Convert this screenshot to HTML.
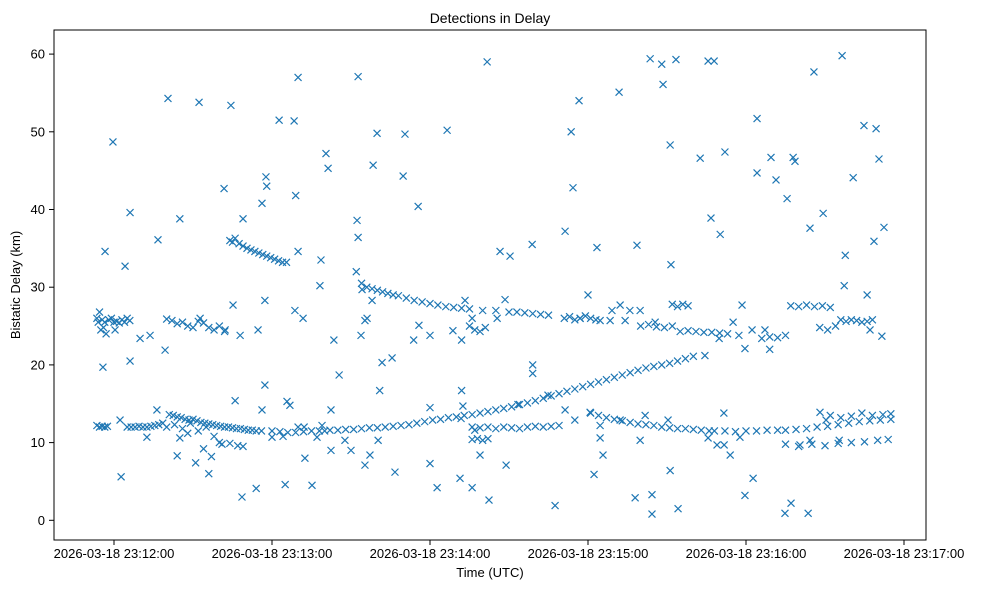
<!DOCTYPE html>
<html><head><meta charset="utf-8"><style>
body{margin:0;background:#fff}
svg{display:block;font-family:"Liberation Sans","DejaVu Sans",sans-serif}
</style></head><body>
<svg id="chart" width="987" height="590" viewBox="0 0 987 590">
<rect width="987" height="590" fill="#fff"/>
<text x="490" y="23" text-anchor="middle" font-size="14">Detections in Delay</text>
<g id="marks"></g>
<g id="axes"></g>
<rect x="54" y="30" width="872" height="510" fill="none" stroke="#000" stroke-width="1"/>
<text x="490" y="577" text-anchor="middle" font-size="13">Time (UTC)</text>
<text transform="translate(20,285) rotate(-90)" text-anchor="middle" font-size="13">Bistatic Delay (km)</text>
</svg>
<script>
// seconds after 2026-03-18 23:12:00
const xTickValues = [0, 60, 120, 180, 240, 300];
const xTickLabels = ["2026-03-18 23:12:00","2026-03-18 23:13:00","2026-03-18 23:14:00","2026-03-18 23:15:00","2026-03-18 23:16:00","2026-03-18 23:17:00"];
const yTickValues = [0, 10, 20, 30, 40, 50, 60];
const yTickLabels = ["0","10","20","30","40","50","60"];
const detections = [
[-6.5,12.2],[-5.5,12.0],[-4.5,12.1],[-3.5,12.0],[-2.5,12.1],[5,12.0],[6.5,12.0],[8,12.0],[9.5,12.1],[11,12.0],[12.5,12.0],[14,12.1],[15.5,12.2],[17,12.3],[18.5,12.5],
[21,13.6],[22.5,13.5],[24,13.3],[25.5,13.2],[27,13.0],[28.5,12.9],[30,13.0],[31.5,12.8],[33,12.6],[34.5,12.5],[36,12.4],[37.5,12.3],[39,12.2],[40.5,12.1],[42,12.0],[43.5,12.0],[45,11.9],[46.5,11.8],[48,11.8],[49.5,11.7],[51,11.6],[52.5,11.6],[54,11.5],[56,11.5],
[20,12.0],[23,12.3],[26,11.8],[29,12.5],[32,11.5],[35,12.0],[38,10.8],[41,9.8],[44,9.9],[47,9.6],[49,9.5],
[25,10.6],[28,11.2],[31,7.4],[24,8.3],[34,9.2],[37,8.2],[40,10.0],[36,6.0],
[-6.5,26.0],[-6,25.5],[-5.5,26.8],[-5,24.5],[-4.5,25.8],[-4,24.8],[-3.5,25.5],[-3,24.0],[-2,25.8],[-1,26.0],[0,25.5],[1,25.6],[2,25.4],[3,25.8],[4,25.5],[5,26.0],[6,25.7],
[20,25.9],[22,25.7],[24,25.3],[26,25.5],[28,25.0],[30,24.8],[32,25.6],[34,25.4],[36,24.8],[38,24.5],[40,25.0],[42,24.3],
[44,36.0],[45,35.8],[46,36.3],[47.5,35.6],[49,35.3],[50.5,35.0],[52,34.8],[53.5,34.6],[55,34.4],[56.5,34.2],[58,34.0],[59.5,33.8],[61,33.6],[62.5,33.4],[64,33.2],[65.5,33.2],
[78,11.5],[80,11.5],[82,11.6],[85,11.6],[88,11.7],[91,11.7],[94,11.8],[97,11.9],[100,11.9],[103,12.0],[106,12.1],[109,12.2],[112,12.3],[115,12.5],[118,12.7],[121,12.9],[124,13.0],[127,13.2],[130,13.3],[133,13.5],[136,13.6],[139,13.8],[142,14.0],[145,14.2],[148,14.4],[151,14.6],[154,14.9],[157,15.1],[160,15.4],[163,15.7],[166,16.0],[169,16.3],[172,16.6],[175,16.9],[178,17.2],[181,17.5],[184,17.8],[187,18.1],[190,18.4],[193,18.7],[196,19.0],[199,19.3],[202,19.6],[205,19.8],[208,20.0],[211,20.2],[214,20.5],[217,20.8],[220,21.1],
[60,11.5],[63,11.4],[66,11.3],[69,11.3],[72,11.4],[75,11.5],
[92,32.0],[94,30.5],[96,30.0],[98,29.8],[100,29.6],[102,29.4],[104,29.2],[106,29.0],[108,28.9],[111,28.6],[114,28.3],[117,28.1],[120,27.9],[123,27.7],[126,27.5],[129,27.4],[132,27.3],[135,27.2],[140,27.0],[145,27.0],[150,26.8],[153,26.8],[156,26.7],[159,26.6],[162,26.5],[165,26.4],
[171,26.0],[173,26.2],[175,25.8],[177,26.0],[179,26.3],[181,26.0],[183,25.8],
[135,25.0],[137,24.5],[139,24.3],[141,24.8],[136,26.0],
[136,12.0],[139,11.9],[142,12.0],[145,11.8],[148,12.0],[151,11.9],[154,11.8],[157,12.0],[160,12.1],[163,12.0],[166,12.1],[169,12.2],
[136,10.4],[138,10.5],[140,10.3],[142,10.5],
[181,13.8],[184,13.5],[187,13.2],[190,13.0],[193,12.8],[196,12.6],[199,12.4],[202,12.3],[205,12.2],[208,12.0],[211,11.9],[214,11.8],[217,11.8],[220,11.7],[223,11.6],[226,11.5],
[228,11.5],[232,11.5],[236,11.4],[240,11.5],[244,11.5],[248,11.6],[252,11.6],
[255,11.6],[259,11.7],[263,11.8],[267,12.0],[271,12.1],[275,12.3],[279,12.5],[283,12.7],[287,12.8],[291,12.9],[295,13.0],
[272,13.5],[276,13.2],[280,13.4],[284,13.8],[288,13.5],[292,13.6],[295,13.7],
[255,9.8],[260,9.5],[265,9.8],[270,9.6],[275,9.9],[280,10.0],[285,10.1],[290,10.3],[294,10.4],
[215,24.3],[218,24.4],[221,24.3],[224,24.2],[227,24.2],[230,24.1],[233,24.0],
[212,27.8],[214,27.5],[216,27.8],[218,27.6],
[200,25.0],[203,25.2],[206,24.9],[209,24.8],[212,25.0],
[246,23.4],[249,23.6],[252,23.5],[255,23.8],
[257,27.6],[260,27.5],[263,27.7],[266,27.5],[269,27.6],[272,27.4],
[276,25.8],[278,25.6],[280,25.8],[282,25.7],[284,25.5],[286,25.6],[288,25.8],
[268,24.8],[271,24.5],[274,25.0],
[-0.4,48.7],[-3.4,34.6],[-4.2,19.7],[4.2,32.7],[2.7,5.6],[6.1,39.6],[6.1,20.5],[16.7,36.1],[20.5,54.3],[25,38.8],[32.3,53.8],[44.4,53.4],[41.8,42.7],[49,38.8],[56.2,40.8],[57.7,44.2],[58,43.0],[48.6,3.0],[54,4.1],[62.7,51.5],[68.4,51.4],[69.9,57.0],[69,41.8],[69.9,34.6],[68.7,27.0],[65,4.6],[75.2,4.5],[80.5,47.2],[81.3,45.3],[78.6,33.5],[78.2,30.2],[85.5,18.7],[92.7,57.1],[92.3,38.6],[92.7,36.4],[99.9,49.8],[98.4,45.7],[109.8,44.3],[110.5,49.7],[115.5,40.4],[126.5,50.2],[141.7,59.0],[146.6,34.6],[150.4,34.0],[148.5,28.4],[153.4,14.9],[158.8,35.5],[159,18.9],[159,20.0],[167.5,1.9],[171.3,37.2],[174.3,42.8],[176.6,54.0],[173.6,50.0],[180,29.0],[183.4,35.1],[182.3,5.9],[185.7,8.4],[191.8,55.1],[198.6,35.4],[197.9,2.9],[203.6,59.4],[204.3,3.3],[204.3,0.8],[208,58.7],[208.5,56.1],[211.2,48.3],[211.5,32.9],[214.2,1.5],[213.4,59.3],[222.6,46.6],[225.6,59.1],[227.9,59.1],[226.7,38.9],[230.2,36.8],[232,47.4],[239.6,3.2],[242.7,5.4],[244.2,51.7],[244.2,44.7],[249.5,46.7],[251.4,43.8],[255.6,41.4],[257.9,46.7],[258.6,46.2],[257.1,2.2],[254.8,0.9],[263.6,0.9],[265.8,57.7],[264.3,37.6],[269.3,39.5],[276.5,59.8],[277.3,30.2],[280.7,44.1],[284.8,50.8],[289.4,50.4],[290.5,46.5],[288.6,35.9],[286,29.0],[292.4,37.7],[291.6,23.7],[277.7,34.1],[205.5,25.5],[231.6,13.8],[237.7,10.7],[249,22.0],
[87.7,10.3],[95.3,7.1],[97.2,8.4],[90,9.0],[100.3,10.3],[106.7,6.2],[120,14.5],[122.7,4.2],[120,7.3],[131.4,5.4],[136,4.2],[142.4,2.6],[131.8,13.1],[132.5,14.7],[137,11.6],[139,8.4],[148.9,7.1],[132,23.2],[132,16.7],[145.5,26.0],[101.8,20.3],[100.9,16.7],[105.6,20.9],[93.8,23.8],[95.3,25.7],[98,28.3],[83.5,23.2],[94.2,29.7],[96.1,26.0],[113.8,23.2],[120,23.8],[115.8,25.1],[128.7,24.4],[133.3,28.3],
[9.9,23.4],[13.7,23.8],[19.4,21.9],[12.5,10.7],[16.3,14.2],[2.3,12.9],[0.4,24.5],[32.7,26.0],[42.2,24.5],[47.9,23.8],[54.7,24.5],[57.3,28.3],[45.2,27.7],[57.3,17.4],[56.2,14.2],[46,15.4],[60,10.7],[64.2,10.8],[65.7,15.3],[66.8,14.8],[69.9,12.0],[72.2,12.0],[72.5,8.0],[77.1,10.7],[79,12.2],[82.4,14.2],[82.4,9.0],[71.8,26.0],
[164.8,16.1],[171.3,14.2],[175,12.9],[180.8,13.9],[184.6,10.6],[184.6,12.2],[192.2,12.9],[199.8,10.3],[201.7,13.5],[210.4,12.9],[211.2,6.4],[225.6,10.6],[229,9.7],[231.7,9.7],[234,8.4],[229.8,23.4],[235.1,25.5],[237.3,23.8],[242.3,24.5],[247.2,24.5],[239.6,22.1],[238.5,27.7],[224.4,21.2],[199.8,27.0],[192.2,27.7],[189.1,27.0],[195.9,27.0],[188.4,25.7],[194.1,25.7],[184.6,25.7],[177,26.0],
[260.5,9.7],[264.3,10.3],[270.4,12.9],[268.1,13.9],[275.4,10.3],[287.1,24.5]
];
const NS="http://www.w3.org/2000/svg";
function xScale(t){return 114 + t*(158/60);}
function yScale(v){return 520.3 - v*7.77;}
const axes=document.getElementById('axes');
xTickValues.forEach((t,i)=>{
  const x=xScale(t);
  const l=document.createElementNS(NS,'line');
  l.setAttribute('x1',x);l.setAttribute('x2',x);l.setAttribute('y1',540);l.setAttribute('y2',545);l.setAttribute('stroke','#000');
  
  
  axes.appendChild(l);
  const tx=document.createElementNS(NS,'text');
  tx.setAttribute('x',x);tx.setAttribute('y',558);tx.setAttribute('text-anchor','middle');tx.setAttribute('font-size','13');
  tx.textContent=xTickLabels[i];
  
  
  axes.appendChild(tx);
});
yTickValues.forEach((v,i)=>{
  const y=yScale(v);
  const l=document.createElementNS(NS,'line');
  l.setAttribute('x1',49);l.setAttribute('x2',54);l.setAttribute('y1',y);l.setAttribute('y2',y);l.setAttribute('stroke','#000');
  
  
  axes.appendChild(l);
  const tx=document.createElementNS(NS,'text');
  tx.setAttribute('x',45);tx.setAttribute('y',y+4.5);tx.setAttribute('text-anchor','end');tx.setAttribute('font-size','13');
  tx.textContent=yTickLabels[i];
  
  
  axes.appendChild(tx);
});
const marks=document.getElementById('marks');
detections.forEach(d=>{
  const x=xScale(d[0]), y=yScale(d[1]), s=3.5;
  const p=document.createElementNS(NS,'path');
  p.setAttribute('d',`M${x-s},${y-s}L${x+s},${y+s}M${x-s},${y+s}L${x+s},${y-s}`);
  p.setAttribute('stroke','#1f77b4');p.setAttribute('stroke-width','1.2');p.setAttribute('fill','none');
  
  
  marks.appendChild(p);
});
</script>
</body></html>
